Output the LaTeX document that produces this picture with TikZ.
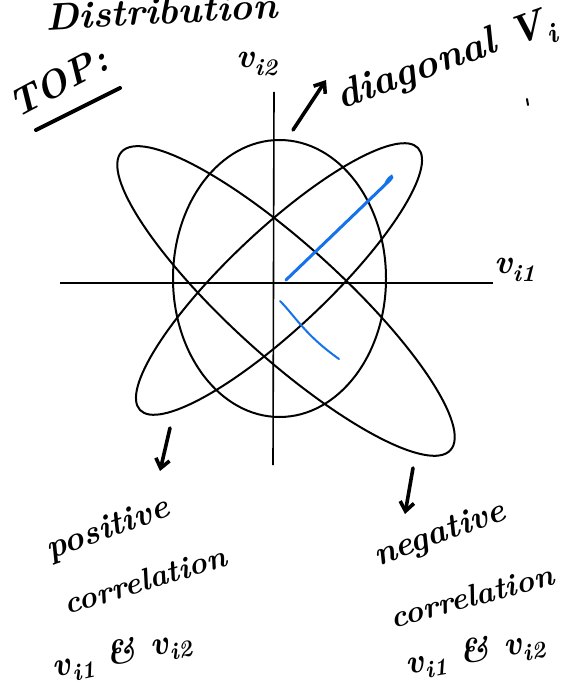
\documentclass[tikz,border=0pt]{standalone}
\usetikzlibrary{arrows.meta}
\definecolor{penblue}{RGB}{20,115,235}
\begin{document}
\begin{tikzpicture}[x=1pt,y=-1pt,
  axis/.style={line width=1.6pt},
  ell/.style={line width=2pt},
  pen/.style={line width=3.6pt,line cap=round,-{Straight Barb[length=9pt,width=14pt,line width=3.6pt]}},
  hand/.style={font=\bfseries\itshape\fontsize{34}{38}\selectfont, inner sep=0pt},
  small/.style={hand, font=\bfseries\itshape\fontsize{31}{36}\selectfont},
  blueline/.style={penblue,line cap=round}]
\useasboundingbox (0,0) rectangle (570,687);
% title fragment (cut at the top)
\node[hand, font=\bfseries\itshape\fontsize{38}{42}\selectfont, anchor=base, rotate=3] (title) at (162,24) {Distribution};
% TOP:
\node[hand, font=\bfseries\itshape\fontsize{38}{42}\selectfont, rotate=28] (top) at (58,82) {TOP:};
\coordinate (ul1) at (36,130); \coordinate (ul2) at (120,88);
\draw[line width=4pt,line cap=round] (ul1) -- (ul2);
% axes
\coordinate (vt) at (274,92); \coordinate (vb) at (273,465);
\coordinate (hl) at (60,283); \coordinate (hr) at (493,283);
\draw[axis] (vt) -- (vb);
\draw[axis] (hl) -- (hr);
% ellipses
\coordinate (c0) at (279.5,278.5);
\coordinate (cp) at (279,279);
\coordinate (cn) at (286,301);
\draw[ell] (c0) ellipse [x radius=106.5pt, y radius=138.5pt];
\draw[ell, rotate around={43.3:(cp)}] (cp) ellipse [x radius=191pt, y radius=49pt];
\draw[ell, rotate around={-42.2:(cn)}] (cn) ellipse [x radius=222pt, y radius=56pt];
% blue strokes
\coordinate (b1) at (286,280); \coordinate (b2) at (390,180); \coordinate (b3) at (386,183);
\draw[blueline, line width=3pt] (b1) -- (b2) .. controls (394,176) and (391,174) .. (b3);
\coordinate (c1) at (280,301); \coordinate (c2) at (339,359);
\draw[blueline, line width=2pt] (c1) .. controls (295,316) and (305,335) .. (c2);
% axis labels
\node[hand] (vi2) at (257,64) {v\textsubscript{i2}};
\node[hand] (vi1) at (515,270) {v\textsubscript{i1}};
% diagonal V_i
\coordinate (da1) at (293,130); \coordinate (da2) at (326,80);
\draw[pen] (da1) -- (da2);
\node[hand, font=\bfseries\itshape\fontsize{40}{44}\selectfont, rotate=20] (diag) at (446,62) {diagonal V\textsubscript{i}};
\coordinate (m1) at (527,99); \coordinate (m2) at (528,105);
\draw[line width=2pt,line cap=round] (m1) -- (m2);
% arrows down
\coordinate (la1) at (170,428); \coordinate (la2) at (160,471);
\draw[pen] (la1) -- (la2);
\coordinate (ra1) at (413,468); \coordinate (ra2) at (405,514);
\draw[pen] (ra1) -- (ra2);
% left labels
\node[hand, rotate=20] (pos) at (108,530) {positive};
\node[small, rotate=17] (corl) at (145,580) {correlation};
\node[hand, rotate=12] (vl) at (122,655) {v\textsubscript{i1} \& v\textsubscript{i2}};
% right labels
\node[hand, rotate=20] (neg) at (440,535) {negative};
\node[small, rotate=15] (corr) at (472,596) {correlation};
\node[hand, rotate=10] (vr) at (475,654) {v\textsubscript{i1} \& v\textsubscript{i2}};
\end{tikzpicture}
\end{document}
